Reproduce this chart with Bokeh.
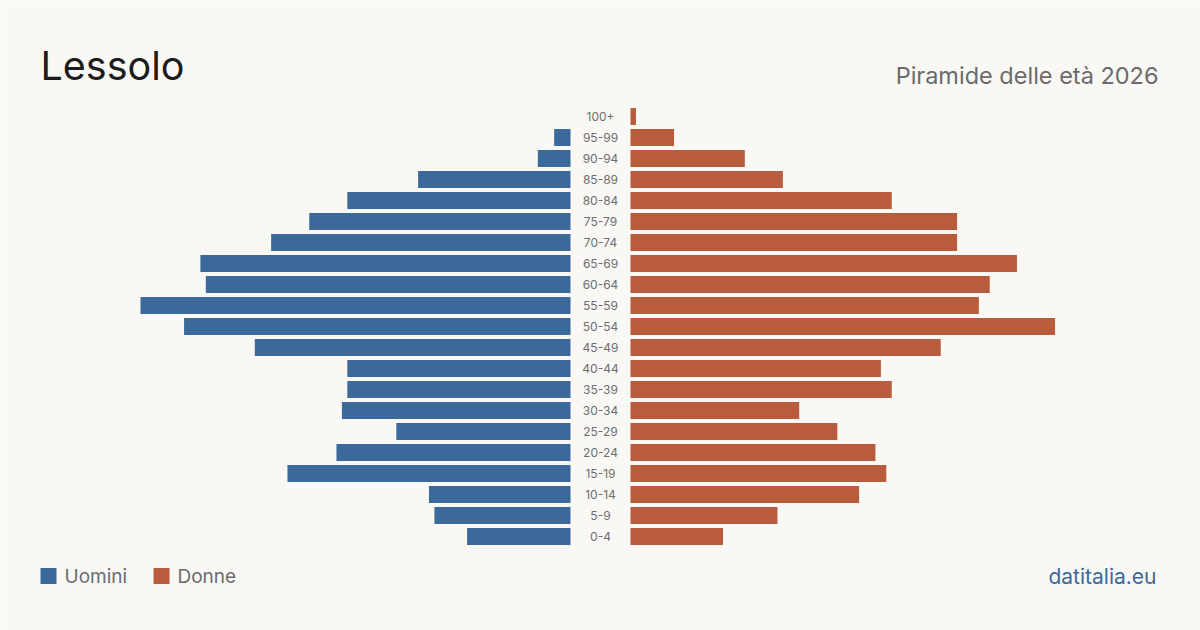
from bokeh.plotting import figure
from bokeh.models import ColumnDataSource, Label, Range1d
from bokeh.embed import file_html
from bokeh.resources import INLINE

# Age classes, youngest first
age_groups = ["0-4", "5-9", "10-14", "15-19", "20-24", "25-29", "30-34", "35-39",
              "40-44", "45-49", "50-54", "55-59", "60-64", "65-69", "70-74",
              "75-79", "80-84", "85-89", "90-94", "95-99", "100+"]
men = [19, 25, 26, 52, 43, 32, 42, 41, 41, 58, 71, 79, 67, 68, 55, 48, 41, 28, 6, 3, 0]
women = [17, 27, 42, 47, 45, 38, 31, 48, 46, 57, 78, 64, 66, 71, 60, 60, 48, 28, 21, 8, 1]

BG = "#f9f8f4"
BLUE = "#3b6a9a"
RED = "#b95c3d"
FONT = "Inter"

W, H = 1200, 630
PX_PER_UNIT = 5.443          # horizontal scale: pixels per person
GAP = 30 / PX_PER_UNIT       # half-width of the central label column
ROW_PX = 21                  # vertical pitch of one age class
ROW0_PX = 536.0              # screen position of the youngest class

half = (W / 2) / PX_PER_UNIT
x_range = Range1d(-half, half)
y_range = Range1d((ROW0_PX - H) / ROW_PX, ROW0_PX / ROW_PX)

idx = list(range(len(age_groups)))
src = ColumnDataSource(dict(
    y=idx,
    label=age_groups,
    m_left=[-(GAP + v) for v in men],
    m_right=[-GAP] * len(men),
    w_left=[GAP] * len(women),
    w_right=[GAP + v for v in women],
))

p = figure(width=W, height=H, x_range=x_range, y_range=y_range,
           output_backend="svg", toolbar_location=None,
           min_border=0, min_border_left=0, min_border_right=0,
           min_border_top=0, min_border_bottom=0)
p.background_fill_color = BG
p.border_fill_color = BG
p.outline_line_color = None
p.xaxis.visible = False
p.yaxis.visible = False
p.xgrid.visible = False
p.ygrid.visible = False

bar_h = 17 / ROW_PX
p.hbar(y="y", left="m_left", right="m_right", height=bar_h, source=src,
       fill_color=BLUE, line_color=None)
p.hbar(y="y", left="w_left", right="w_right", height=bar_h, source=src,
       fill_color=RED, line_color=None)

p.text(x=0, y="y", text="label", source=src, text_align="center",
       text_baseline="middle", text_font_size="12px", text_color="#6e6e6e",
       text_font={"value": FONT})


def screen_label(x, y_top, text, size, color, align="left"):
    p.add_layout(Label(x=x, y=H - y_top, x_units="screen", y_units="screen",
                       text=text, text_font=FONT, text_font_size=size,
                       text_color=color, text_align=align,
                       text_baseline="alphabetic"))


screen_label(40, 65, "Lessolo", "39.5px", "#1c1c1c")
screen_label(1158, 75, "Piramide delle età 2026", "23.5px", "#6b6b6b", "right")
screen_label(1156, 576, "datitalia.eu", "21px", BLUE, "right")

# Legend
legend_items = [(40, BLUE, "Uomini"), (153, RED, "Donne")]
leg_src = ColumnDataSource(dict(
    x=[(x + 8 - W / 2) / PX_PER_UNIT for x, _, _ in legend_items],
    y=[(ROW0_PX - 575.5) / ROW_PX] * 2,
    color=[c for _, c, _ in legend_items],
))
p.rect(x="x", y="y", width=16 / PX_PER_UNIT, height=16 / ROW_PX, source=leg_src,
       fill_color="color", line_color=None)
for x, _, name in legend_items:
    screen_label(x + 24, 576, name, "19px", "#6b6b6b")

open("out.html", "w").write(file_html(p, INLINE))
